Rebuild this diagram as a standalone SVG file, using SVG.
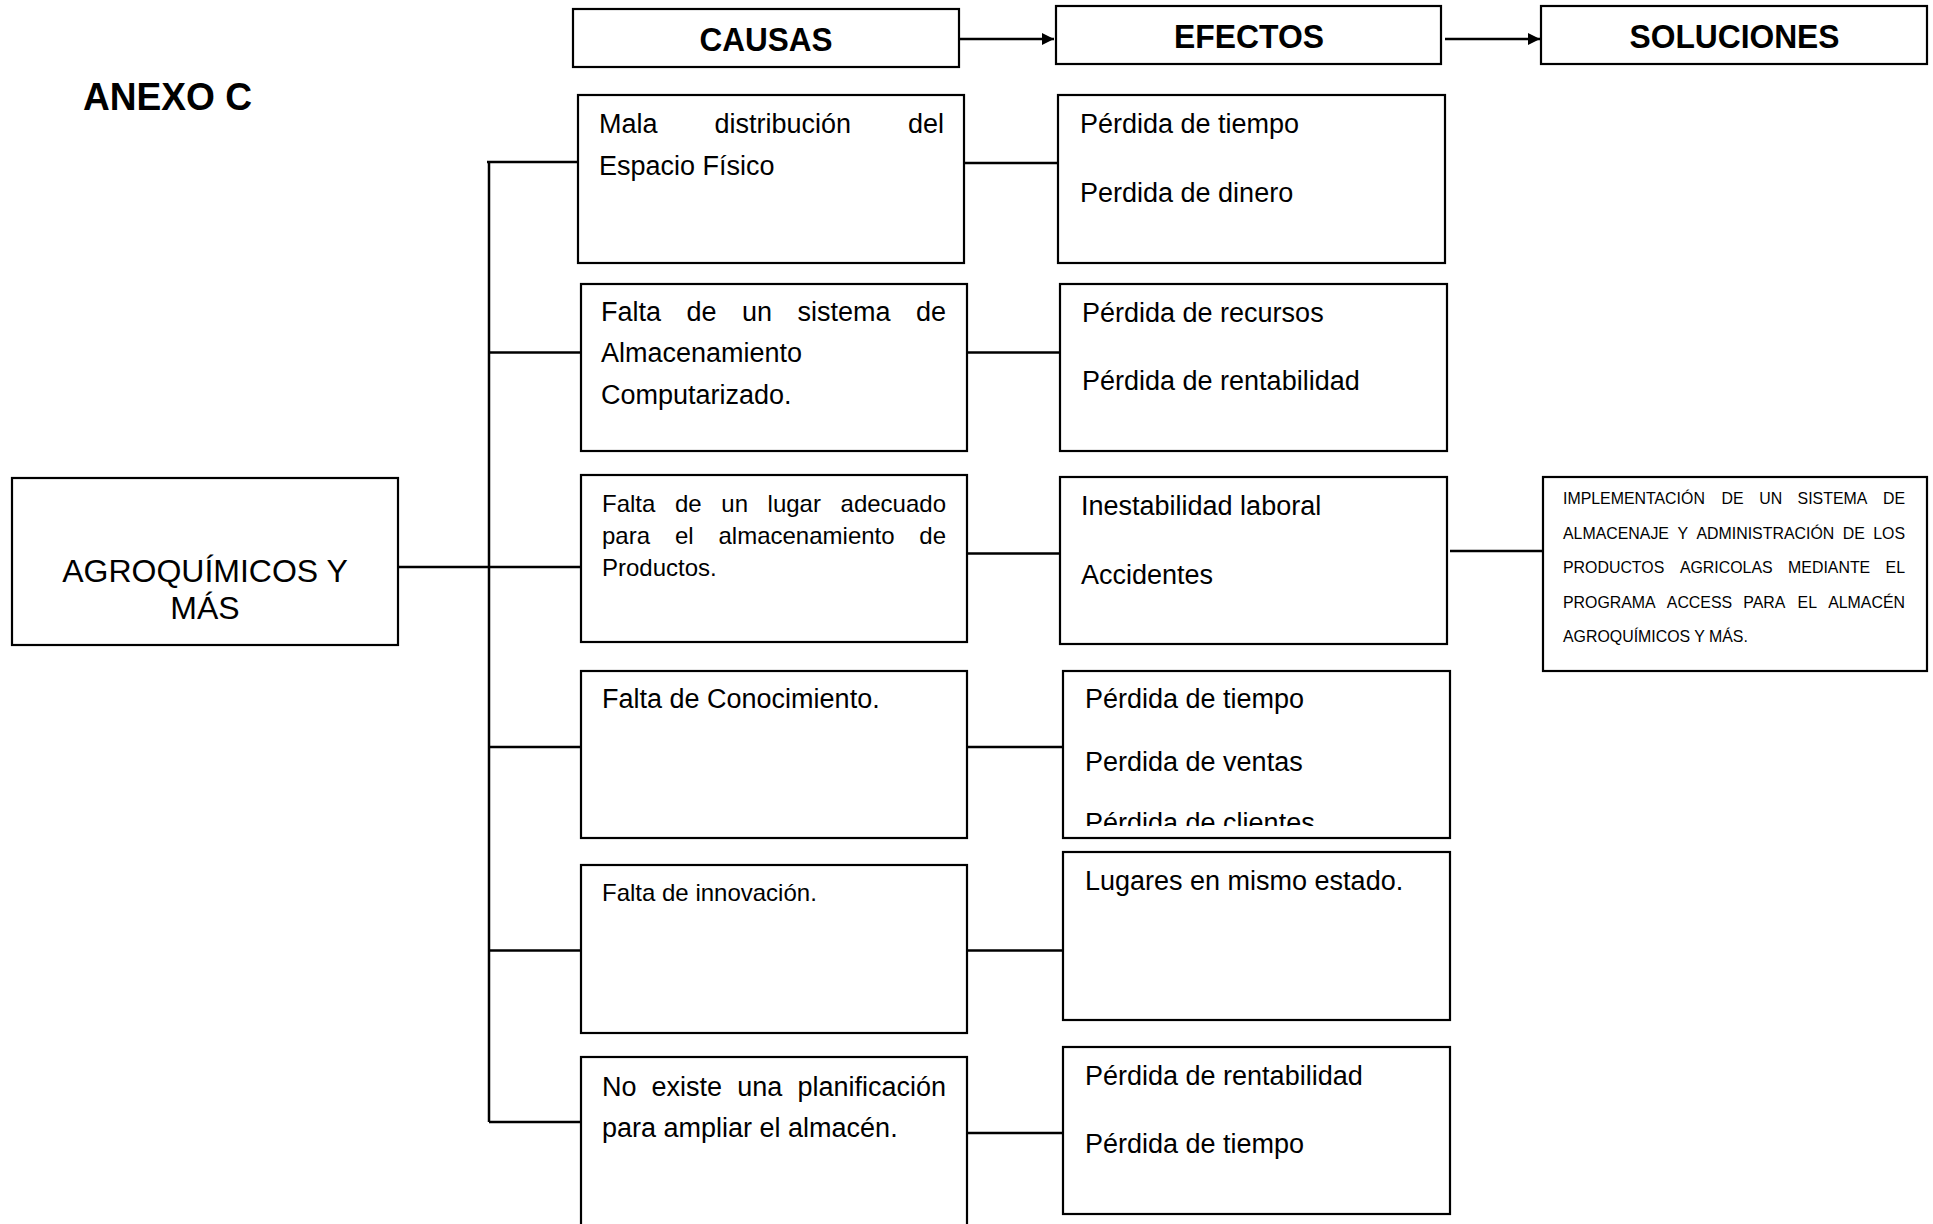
<svg xmlns="http://www.w3.org/2000/svg" width="1933" height="1224" viewBox="0 0 1933 1224">
<style>
.bg{fill:#fff}
.box{fill:#fff;stroke:#000;stroke-width:2.2}
.ln{stroke:#000;stroke-width:2.5;fill:none}
.t{font-family:'Liberation Sans',Arial,sans-serif;fill:#000}
.body{font-size:27px}
.small{font-size:24px}
.sol{font-size:15.9px}
.hdr{font-size:34px;font-weight:bold}
.root{font-size:32px}
</style>
<defs>
<marker id="arr" markerUnits="userSpaceOnUse" markerWidth="13" markerHeight="12" viewBox="0 0 10 10" refX="10" refY="5" orient="auto">
<path d="M0,0 L10,5 L0,10 z" fill="#000"/>
</marker>
<clipPath id="clipE4"><rect x="1063" y="671" width="387" height="155"/></clipPath>
</defs>
<rect class="bg" x="0" y="0" width="1933" height="1224"/>

<g id="title">
<text class="t" x="83" y="110" font-size="38" font-weight="bold" textLength="169" lengthAdjust="spacingAndGlyphs">ANEXO C</text>
</g>

<g id="connectors">
<path class="ln" d="M489 162 V1122"/>
<path class="ln" d="M487 162 H578"/>
<path class="ln" d="M398 567 H581"/>
<path class="ln" d="M489 352.6 H581"/>
<path class="ln" d="M489 747 H581"/>
<path class="ln" d="M489 950.5 H581"/>
<path class="ln" d="M489 1122 H581"/>
<path class="ln" d="M964 163 H1058"/>
<path class="ln" d="M967 352.6 H1060"/>
<path class="ln" d="M967 553.5 H1060"/>
<path class="ln" d="M967 747 H1063"/>
<path class="ln" d="M967 950.5 H1063"/>
<path class="ln" d="M967 1133 H1063"/>
<path class="ln" d="M1450 551 H1543"/>
<path class="ln" d="M959 39 H1054" marker-end="url(#arr)"/>
<path class="ln" d="M1445 39 H1540" marker-end="url(#arr)"/>
</g>

<g id="hdr-causas">
<rect class="box" x="573" y="9" width="386" height="58"/>
<text class="t hdr" x="766" y="50.5" text-anchor="middle" textLength="133" lengthAdjust="spacingAndGlyphs">CAUSAS</text>
</g>
<g id="hdr-efectos">
<rect class="box" x="1056" y="6" width="385" height="58"/>
<text class="t hdr" x="1249" y="48" text-anchor="middle" textLength="150" lengthAdjust="spacingAndGlyphs">EFECTOS</text>
</g>
<g id="hdr-soluciones">
<rect class="box" x="1541" y="6" width="386" height="58"/>
<text class="t hdr" x="1734.5" y="48" text-anchor="middle" textLength="210" lengthAdjust="spacingAndGlyphs">SOLUCIONES</text>
</g>

<g id="root">
<rect class="box" x="12" y="478" width="386" height="167"/>
<text class="t root" x="205" y="582" text-anchor="middle">AGROQUÍMICOS Y</text>
<text class="t root" x="205" y="619" text-anchor="middle">MÁS</text>
</g>

<g id="causa1">
<rect class="box" x="578" y="95" width="386" height="168"/>
<text class="t body" y="133"><tspan x="599">Mala</tspan><tspan x="714.5">distribución</tspan><tspan x="944" text-anchor="end">del</tspan></text>
<text class="t body" x="599" y="175">Espacio Físico</text>
</g>
<g id="causa2">
<rect class="box" x="581" y="284" width="386" height="167"/>
<text class="t body" y="321"><tspan x="601">Falta</tspan><tspan x="686.5">de</tspan><tspan x="742">un</tspan><tspan x="797.5">sistema</tspan><tspan x="946" text-anchor="end">de</tspan></text>
<text class="t body" x="601" y="362">Almacenamiento</text>
<text class="t body" x="601" y="404">Computarizado.</text>
</g>
<g id="causa3">
<rect class="box" x="581" y="475" width="386" height="167"/>
<text class="t small" y="512"><tspan x="602">Falta</tspan><tspan x="675">de</tspan><tspan x="721.3">un</tspan><tspan x="767.6">lugar</tspan><tspan x="946" text-anchor="end">adecuado</tspan></text>
<text class="t small" y="544"><tspan x="602">para</tspan><tspan x="674.9">el</tspan><tspan x="718.5">almacenamiento</tspan><tspan x="946" text-anchor="end">de</tspan></text>
<text class="t small" x="602" y="576">Productos.</text>
</g>
<g id="causa4">
<rect class="box" x="581" y="671" width="386" height="167"/>
<text class="t body" x="602" y="708">Falta de Conocimiento.</text>
</g>
<g id="causa5">
<rect class="box" x="581" y="865" width="386" height="168"/>
<text class="t small" x="602" y="901">Falta de innovación.</text>
</g>
<g id="causa6">
<rect class="box" x="581" y="1057" width="386" height="172"/>
<text class="t body" y="1096"><tspan x="602">No</tspan><tspan x="651.6">existe</tspan><tspan x="737.2">una</tspan><tspan x="946" text-anchor="end">planificación</tspan></text>
<text class="t body" x="602" y="1137">para ampliar el almacén.</text>
</g>

<g id="efecto1">
<rect class="box" x="1058" y="95" width="387" height="168"/>
<text class="t body" x="1080" y="133">Pérdida de tiempo</text>
<text class="t body" x="1080" y="202">Perdida de dinero</text>
</g>
<g id="efecto2">
<rect class="box" x="1060" y="284" width="387" height="167"/>
<text class="t body" x="1082" y="322">Pérdida de recursos</text>
<text class="t body" x="1082" y="390">Pérdida de rentabilidad</text>
</g>
<g id="efecto3">
<rect class="box" x="1060" y="477" width="387" height="167"/>
<text class="t body" x="1081" y="515">Inestabilidad laboral</text>
<text class="t body" x="1081" y="584">Accidentes</text>
</g>
<g id="efecto4">
<rect class="box" x="1063" y="671" width="387" height="167"/>
<text class="t body" x="1085" y="708">Pérdida de tiempo</text>
<text class="t body" x="1085" y="771">Perdida de ventas</text>
<text class="t body" x="1085" y="832" clip-path="url(#clipE4)">Pérdida de clientes</text>
</g>
<g id="efecto5">
<rect class="box" x="1063" y="852" width="387" height="168"/>
<text class="t body" x="1085" y="890">Lugares en mismo estado.</text>
</g>
<g id="efecto6">
<rect class="box" x="1063" y="1047" width="387" height="167"/>
<text class="t body" x="1085" y="1085">Pérdida de rentabilidad</text>
<text class="t body" x="1085" y="1153">Pérdida de tiempo</text>
</g>

<g id="solucion">
<rect class="box" x="1543" y="477" width="384" height="194"/>
<text class="t sol" y="504"><tspan x="1563">IMPLEMENTACIÓN</tspan><tspan x="1721.6">DE</tspan><tspan x="1759.2">UN</tspan><tspan x="1797.6">SISTEMA</tspan><tspan x="1905" text-anchor="end">DE</tspan></text>
<text class="t sol" y="538.5"><tspan x="1563">ALMACENAJE</tspan><tspan x="1677.4">Y</tspan><tspan x="1696.5">ADMINISTRACIÓN</tspan><tspan x="1842.7">DE</tspan><tspan x="1905" text-anchor="end">LOS</tspan></text>
<text class="t sol" y="573"><tspan x="1563">PRODUCTOS</tspan><tspan x="1679.9">AGRICOLAS</tspan><tspan x="1788.1">MEDIANTE</tspan><tspan x="1905" text-anchor="end">EL</tspan></text>
<text class="t sol" y="607.5"><tspan x="1563">PROGRAMA</tspan><tspan x="1666.8">ACCESS</tspan><tspan x="1743.3">PARA</tspan><tspan x="1797.6">EL</tspan><tspan x="1905" text-anchor="end">ALMACÉN</tspan></text>
<text class="t sol" x="1563" y="642">AGROQUÍMICOS Y MÁS.</text>
</g>
</svg>
